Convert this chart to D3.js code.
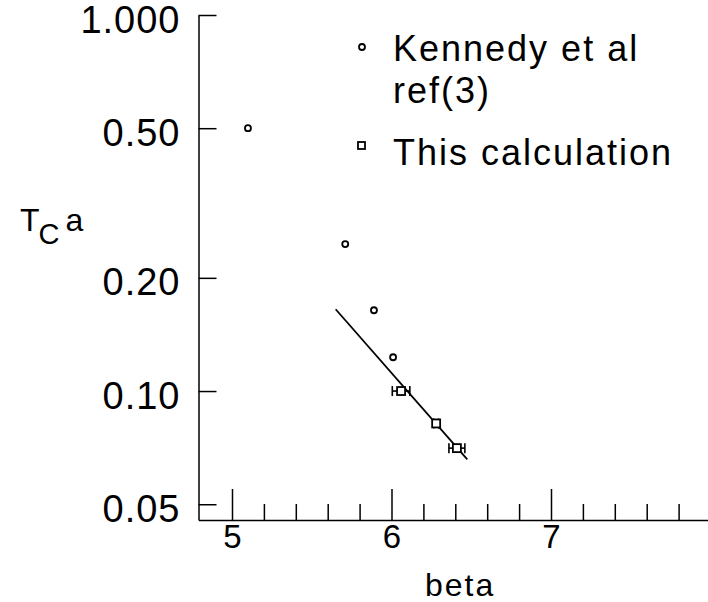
<!DOCTYPE html>
<html>
<head>
<meta charset="utf-8">
<script src="https://cdn.jsdelivr.net/npm/d3@7"></script>
<style>
  body { margin: 0; background: #fff; }
  svg { display: block; }
  text { font-family: "Liberation Sans", Arial, sans-serif; fill: #000; }
</style>
</head>
<body>
<div class="graph"></div>
<script>
// Kennedy et al ref(3) - 동그라미
const kennedyBeta = [5.10, 5.71, 5.89, 6.01];
const kennedyTc = [0.50, 0.246, 0.164, 0.123];

// This calculation - 네모 + 가로 오차막대
const calcBeta = [6.06, 6.28, 6.41];
const calcTc = [0.100, 0.082, 0.0705];
const calcErr = [0.055, 0.015, 0.05];

// 직선 fit
const fitBeta = [5.65, 6.475];
const fitTc = [0.165, 0.0658];

// 축 눈금
const yTicks = [1.0, 0.5, 0.2, 0.1, 0.05];
const yTickLabels = ['1.000', '0.50', '0.20', '0.10', '0.05'];
const xMajor = [5, 6, 7];
const xMinor = [5.2, 5.4, 5.6, 5.8, 6.2, 6.4, 6.6, 6.8, 7.2, 7.4, 7.6, 7.8];

const legendLabels = [['Kennedy et al', 'ref(3)'], ['This calculation']];

const width = 708;
const height = 602;

const svg = d3.select('.graph')
  .append('svg')
  .attr('width', width)
  .attr('height', height);

const x = d3.scaleLinear()
  .domain([4.79, 8.0])
  .range([198.5, 710.5]);

const y = d3.scaleLog()
  .domain([1.0, 0.0454])
  .range([15, 520]);

// y축 (눈금 안쪽)
const yAxis = d3.axisLeft(y)
  .tickValues(yTicks)
  .tickFormat((d, i) => yTickLabels[i])
  .tickSizeInner(-18)
  .tickSizeOuter(0)
  .tickPadding(18);

svg.append('g')
  .attr('transform', `translate(${x(4.79)},0)`)
  .call(yAxis)
  .call(g => g.selectAll('path, line').attr('stroke', '#000').attr('stroke-width', 1.5))
  .call(g => g.selectAll('text')
    .attr('font-size', 38)
    .attr('letter-spacing', 1)
    .attr('font-family', '"Liberation Sans", Arial, sans-serif')
    .attr('dy', '0.45em'));

// x축 큰 눈금
const xAxis = d3.axisBottom(x)
  .tickValues(xMajor)
  .tickFormat(d3.format('d'))
  .tickSizeInner(-31)
  .tickSizeOuter(0)
  .tickPadding(5);

svg.append('g')
  .attr('transform', `translate(0,${y(0.0454)})`)
  .call(xAxis)
  .call(g => g.selectAll('path, line').attr('stroke', '#000').attr('stroke-width', 1.5))
  .call(g => g.selectAll('text')
    .attr('font-size', 33)
    .attr('font-family', '"Liberation Sans", Arial, sans-serif'));

// x축 작은 눈금
svg.append('g')
  .attr('transform', `translate(0,${y(0.0454)})`)
  .call(d3.axisBottom(x).tickValues(xMinor).tickFormat('').tickSizeInner(-16).tickSizeOuter(0))
  .call(g => g.select('.domain').remove())
  .call(g => g.selectAll('line').attr('stroke', '#000').attr('stroke-width', 1.5));

// 축 제목
svg.append('text')
  .attr('x', x(6.43))
  .attr('y', 596)
  .attr('text-anchor', 'middle')
  .attr('font-size', 32)
  .attr('letter-spacing', 2)
  .text('beta');

const yLabel = svg.append('text')
  .attr('x', 20)
  .attr('y', 231)
  .attr('font-size', 32);
yLabel.append('tspan').text('T');
yLabel.append('tspan').attr('dy', 13).attr('dx', -1).attr('font-size', 29).text('C');
yLabel.append('tspan').attr('dy', -13).attr('dx', 6).text('a');

// fit 직선
svg.append('line')
  .attr('x1', x(fitBeta[0])).attr('y1', y(fitTc[0]))
  .attr('x2', x(fitBeta[1])).attr('y2', y(fitTc[1]))
  .attr('stroke', '#000')
  .attr('stroke-width', 1.8);

// Kennedy 점
svg.append('g')
  .selectAll('circle')
  .data(kennedyBeta)
  .join('circle')
  .attr('cx', d => x(d))
  .attr('cy', (d, i) => y(kennedyTc[i]))
  .attr('r', 3)
  .attr('fill', 'none')
  .attr('stroke', '#000')
  .attr('stroke-width', 1.8);

// 이번 계산 점 + 오차막대
const calc = svg.append('g')
  .selectAll('g')
  .data(calcBeta)
  .join('g');

calc.append('line')
  .attr('x1', (d, i) => x(d - calcErr[i]))
  .attr('x2', (d, i) => x(d + calcErr[i]))
  .attr('y1', (d, i) => y(calcTc[i]))
  .attr('y2', (d, i) => y(calcTc[i]))
  .attr('stroke', '#000')
  .attr('stroke-width', 1.6);

calc.append('line')
  .attr('x1', (d, i) => x(d - calcErr[i]))
  .attr('x2', (d, i) => x(d - calcErr[i]))
  .attr('y1', (d, i) => y(calcTc[i]) - 5)
  .attr('y2', (d, i) => y(calcTc[i]) + 5)
  .attr('stroke', '#000')
  .attr('stroke-width', 1.6);

calc.append('line')
  .attr('x1', (d, i) => x(d + calcErr[i]))
  .attr('x2', (d, i) => x(d + calcErr[i]))
  .attr('y1', (d, i) => y(calcTc[i]) - 5)
  .attr('y2', (d, i) => y(calcTc[i]) + 5)
  .attr('stroke', '#000')
  .attr('stroke-width', 1.6);

calc.append('rect')
  .attr('x', d => x(d) - 4)
  .attr('y', (d, i) => y(calcTc[i]) - 4)
  .attr('width', 8)
  .attr('height', 8)
  .attr('fill', '#fff')
  .attr('stroke', '#000')
  .attr('stroke-width', 1.8);

// 범례
svg.append('circle')
  .attr('cx', 362).attr('cy', 47).attr('r', 3)
  .attr('fill', 'none').attr('stroke', '#000').attr('stroke-width', 1.8);
svg.append('rect')
  .attr('x', 358).attr('y', 142).attr('width', 7).attr('height', 7)
  .attr('fill', 'none').attr('stroke', '#000').attr('stroke-width', 1.8);

const legendBase = [[61, 103], [165]];
legendLabels.forEach((lines, k) => {
  lines.forEach((t, j) => {
    svg.append('text')
      .attr('x', 393)
      .attr('y', legendBase[k][j])
      .attr('font-size', 36)
      .attr('letter-spacing', 2)
      .text(t);
  });
});
</script>
</body>
</html>
